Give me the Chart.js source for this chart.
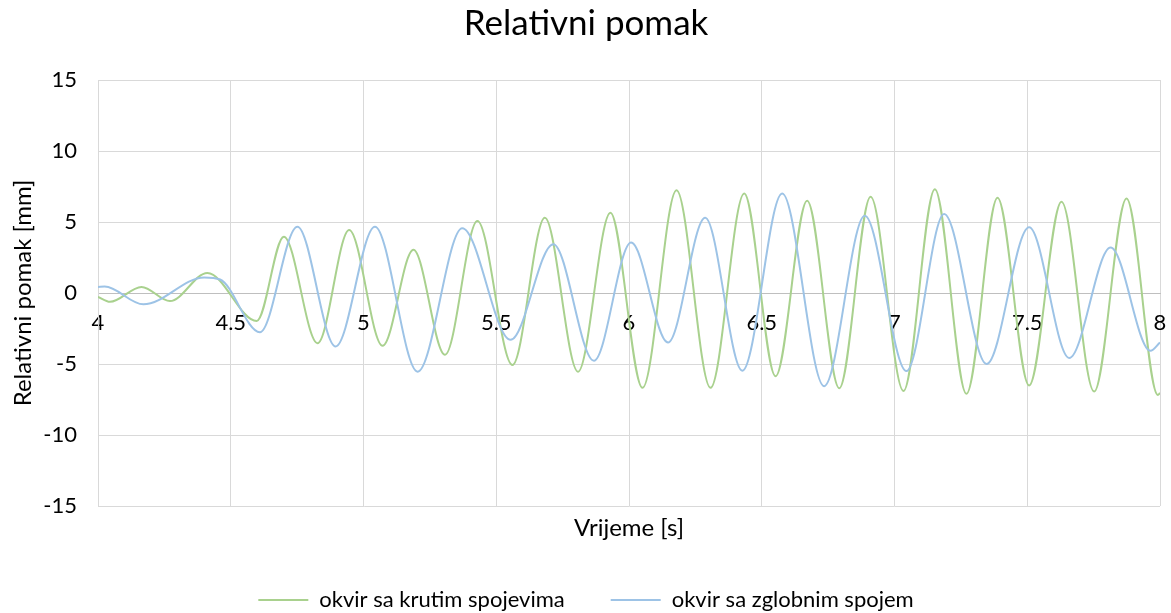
<!DOCTYPE html>
<html>
<head>
<meta charset="utf-8">
<script src="https://cdn.jsdelivr.net/npm/chart.js@4/dist/chart.umd.min.js"></script>
<style>
  html, body { margin: 0; padding: 0; background: #fff; }
  #wrap { width: 1171px; height: 613px; position: relative; }
</style>
</head>
<body>
<div id="wrap"><canvas id="chart"></canvas></div>
<script>
// values (peaks, troughs and a few points between)
var tKrutim = [4.000, 4.045, 4.164, 4.271, 4.412, 4.598, 4.700, 4.827, 4.946, 5.072,
  5.188, 5.307, 5.429, 5.561, 5.683, 5.808, 5.930, 6.051, 6.179, 6.307,
  6.434, 6.552, 6.671, 6.792, 6.910, 7.034, 7.152, 7.271, 7.388, 7.507,
  7.629, 7.752, 7.874, 7.992, 8.000];
var vKrutim = [-0.27, -0.62, 0.43, -0.57, 1.41, -1.97, 3.97, -3.53, 4.44, -3.72,
  3.04, -4.35, 5.07, -5.07, 5.30, -5.54, 5.65, -6.68, 7.24, -6.68,
  7.00, -5.86, 6.49, -6.70, 6.77, -6.90, 7.31, -7.10, 6.70, -6.51,
  6.42, -6.94, 6.66, -7.18, -7.05];

var tZglobnim = [4.000, 4.025, 4.171, 4.400, 4.460, 4.610, 4.751, 4.895, 5.043, 5.204,
  5.372, 5.554, 5.715, 5.868, 6.008, 6.147, 6.287, 6.427, 6.577, 6.735,
  6.888, 7.045, 7.187, 7.347, 7.507, 7.658, 7.814, 7.964, 8.000];
var vZglobnim = [0.43, 0.45, -0.80, 1.10, 0.95, -2.76, 4.67, -3.76, 4.67, -5.54,
  4.56, -3.30, 3.44, -4.77, 3.55, -3.48, 5.30, -5.47, 7.00, -6.56,
  5.44, -5.50, 5.56, -5.00, 4.63, -4.58, 3.20, -4.07, -3.48];

var xTicks = [4, 4.5, 5, 5.5, 6, 6.5, 7, 7.5, 8];
var yTicks = [-15, -10, -5, 0, 5, 10, 15];

var seriesNames = ['okvir sa krutim spojevima', 'okvir sa zglobnim spojem'];

function pairs(ts, vs) {
  return ts.map(function (t, i) { return { x: t, y: vs[i] }; });
}

var font = 'Lato';
var textColor = '#000000';
var gridColor = '#d9d9d9';

new Chart(document.getElementById('chart'), {
  type: 'line',
  data: {
    datasets: [{
      label: seriesNames[0],
      data: pairs(tKrutim, vKrutim),
      borderColor: '#a9d18e',
      backgroundColor: '#a9d18e',
      borderWidth: 2,
      pointRadius: 0,
      cubicInterpolationMode: 'monotone',
      order: 1
    }, {
      label: seriesNames[1],
      data: pairs(tZglobnim, vZglobnim),
      borderColor: '#9dc3e6',
      backgroundColor: '#9dc3e6',
      borderWidth: 2,
      pointRadius: 0,
      cubicInterpolationMode: 'monotone',
      order: 0
    }]
  },
  options: {
    responsive: true,
    maintainAspectRatio: false,
    animation: false,
    layout: { padding: { left: 12, right: 11, top: 0, bottom: 0 } },
    plugins: {
      title: {
        display: true,
        text: 'Relativni pomak',
        color: textColor,
        font: { family: font, size: 35, weight: 'normal' },
        padding: { top: 3, bottom: 35 }
      },
      legend: {
        position: 'bottom',
        maxHeight: 70,
        labels: {
          color: textColor,
          font: { family: font, size: 22 },
          usePointStyle: true,
          pointStyle: 'line',
          pointStyleWidth: 50,
          padding: 46,
          sort: function (a, b) { return a.datasetIndex - b.datasetIndex; }
        }
      },
      tooltip: { enabled: false }
    },
    scales: {
      x: {
        type: 'linear',
        min: 4,
        max: 8,
        position: { y: 0 },
        afterBuildTicks: function (s) {
          s.ticks = xTicks.map(function (v) { return { value: v }; });
        },
        afterFit: function (s) {
          s.paddingLeft = 0; s.paddingRight = 0;
        },
        grid: { color: gridColor, drawTicks: false },
        border: { color: '#bfbfbf', width: 1 },
        ticks: {
          color: textColor,
          font: { family: font, size: 22 },
          padding: 17,
          maxRotation: 0,
          callback: function (v) { return String(v); }
        }
      },
      xt: {
        type: 'linear',
        min: 4,
        max: 8,
        position: 'bottom',
        grid: { display: false, drawTicks: false },
        border: { display: false },
        ticks: { display: false },
        afterFit: function (s) {
          s.height = 37; s.paddingLeft = 0; s.paddingRight = 0;
        },
        title: {
          display: true,
          text: 'Vrijeme [s]',
          color: textColor,
          font: { family: font, size: 24 },
          padding: { top: 0, bottom: 0 }
        }
      },
      y: {
        min: -15,
        max: 15,
        afterBuildTicks: function (s) {
          s.ticks = yTicks.map(function (v) { return { value: v }; });
        },
        afterFit: function (s) {
          s.width = 86; s.paddingTop = 0; s.paddingBottom = 0;
        },
        grid: {
          drawTicks: false,
          color: function (c) { return c.tick && c.tick.value === 0 ? '#bfbfbf' : gridColor; }
        },
        border: { color: gridColor },
        ticks: {
          color: textColor,
          font: { family: font, size: 22 },
          padding: 21
        },
        title: {
          display: true,
          text: 'Relativni pomak [mm]',
          color: textColor,
          font: { family: font, size: 24 },
          padding: { top: -3, bottom: 0 }
        }
      }
    }
  }
});
</script>
</body>
</html>
